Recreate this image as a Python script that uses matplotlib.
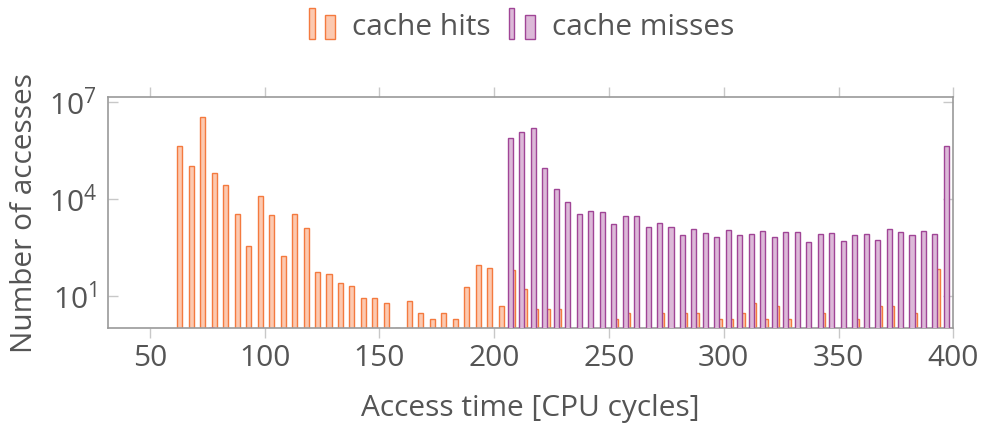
import matplotlib
matplotlib.use("Agg")
import matplotlib.pyplot as plt
from matplotlib.legend_handler import HandlerBase
from matplotlib.patches import Rectangle, Patch

plt.rcParams["font.family"] = ["Open Sans", "DejaVu Sans"]
plt.rcParams["mathtext.default"] = "regular"

# cache hits: access time [cycles] -> number of accesses
hits_x = [63, 68, 73, 78, 83, 88, 93, 98, 103, 108, 113, 118, 123, 128, 133, 138,
          143, 148, 153, 158, 163, 168, 173, 178, 183, 188, 193, 198, 203, 208,
          213, 218, 223, 228, 253, 258, 273, 283, 288, 298, 303, 308, 313, 318,
          323, 328, 343, 358, 368, 373, 383, 393]
hits_n = [4.4e5, 1.0e5, 3.3e6, 6.4e4, 2.7e4, 3500, 356, 1.25e4, 3100, 170, 3500,
          1240, 54, 47, 25, 21, 9, 9, 6, 1, 7, 3, 2, 3, 2, 19, 88, 75, 5, 62,
          17, 4, 4, 4, 2, 3, 3, 3, 3, 2, 2, 3, 6, 2, 5, 2, 3, 2, 5, 5, 3, 70]

# cache misses
miss_x = [77, 207, 212, 217, 222, 227, 232, 237, 242, 247, 252, 257, 262, 267,
          272, 277, 282, 287, 292, 297, 302, 307, 312, 317, 322, 327, 332, 337,
          342, 347, 352, 357, 362, 367, 372, 377, 382, 387, 392, 397]
miss_n = [1, 7.3e5, 1.19e6, 1.5e6, 8.7e4, 2.05e4, 8000, 3330, 4340, 4040, 1690,
          2970, 2970, 1370, 1760, 1370, 753, 1200, 910, 687, 1070, 753, 809,
          1020, 670, 933, 980, 449, 830, 890, 490, 753, 809, 525, 1180, 980,
          753, 1000, 809, 4.2e5]

HIT_EC, HIT_FC = "#f47a3f", "#fcc9b0"
MISS_EC, MISS_FC = "#a04596", "#dcb9d8"
TXT = "#555555"
GRID = "#c8c8c8"
FS = 21.5


class TwoBars(HandlerBase):
    # legend marker like pgfplots ybar legend: two little bars
    def create_artists(self, legend, orig_handle, xdescent, ydescent,
                       width, height, fontsize, trans):
        fc = orig_handle.get_facecolor()
        ec = orig_handle.get_edgecolor()
        x0, y0 = -xdescent, -ydescent - 0.2 * height
        r1 = Rectangle((x0, y0), width * 0.22, height * 1.5,
                       facecolor=fc, edgecolor=ec, lw=1.0, transform=trans)
        r2 = Rectangle((x0 + width * 0.62, y0), width * 0.36, height * 1.15,
                       facecolor=fc, edgecolor=ec, lw=1.0, transform=trans)
        return [r1, r2]


fig = plt.figure(figsize=(9.82, 4.25), dpi=100)
ax = fig.add_axes([0.1097, 0.2271, 0.8611, 0.5454])

bw = 2.2
ax.bar(hits_x, hits_n, width=bw, facecolor=HIT_FC, edgecolor=HIT_EC,
       linewidth=1.0, zorder=2)
ax.bar(miss_x, miss_n, width=bw, facecolor=MISS_FC, edgecolor=MISS_EC,
       linewidth=1.0, zorder=3)

ax.set_yscale("log")
ax.set_ylim(1, 10 ** 7.15)
ax.set_xlim(31.6, 400)

ax.set_yticks([10, 1e4, 1e7])
ax.set_yticklabels([r"$10^{1}$", r"$10^{4}$", r"$10^{7}$"])
ax.yaxis.set_minor_locator(matplotlib.ticker.NullLocator())
ax.set_xticks([50, 100, 150, 200, 250, 300, 350, 400])

ax.tick_params(axis="x", direction="out", length=7, width=1.0, color=GRID,
               top=True, bottom=True, labelsize=FS, labelcolor=TXT, pad=4)
ax.tick_params(axis="y", direction="in", length=7, width=1.0, color=GRID,
               left=True, right=True, labelsize=FS, labelcolor=TXT, pad=8)

for s in ax.spines.values():
    s.set_color("#9a9a9a")
    s.set_linewidth(1.2)

ax.set_xlabel("Access time [CPU cycles]", fontsize=FS, color=TXT, labelpad=15)
ax.set_ylabel("Number of accesses", fontsize=FS, color=TXT, labelpad=7)

handles = [Patch(facecolor=HIT_FC, edgecolor=HIT_EC),
           Patch(facecolor=MISS_FC, edgecolor=MISS_EC)]
leg = fig.legend(handles, ["cache hits", "cache misses"], loc="center",
                 bbox_to_anchor=(0.531, 0.935), ncol=2, frameon=False,
                 fontsize=FS, handler_map={Patch: TwoBars()},
                 handlelength=0.9, handletextpad=0.55, columnspacing=0.6)
for t in leg.get_texts():
    t.set_color(TXT)

fig.savefig("out.png", dpi=100)
